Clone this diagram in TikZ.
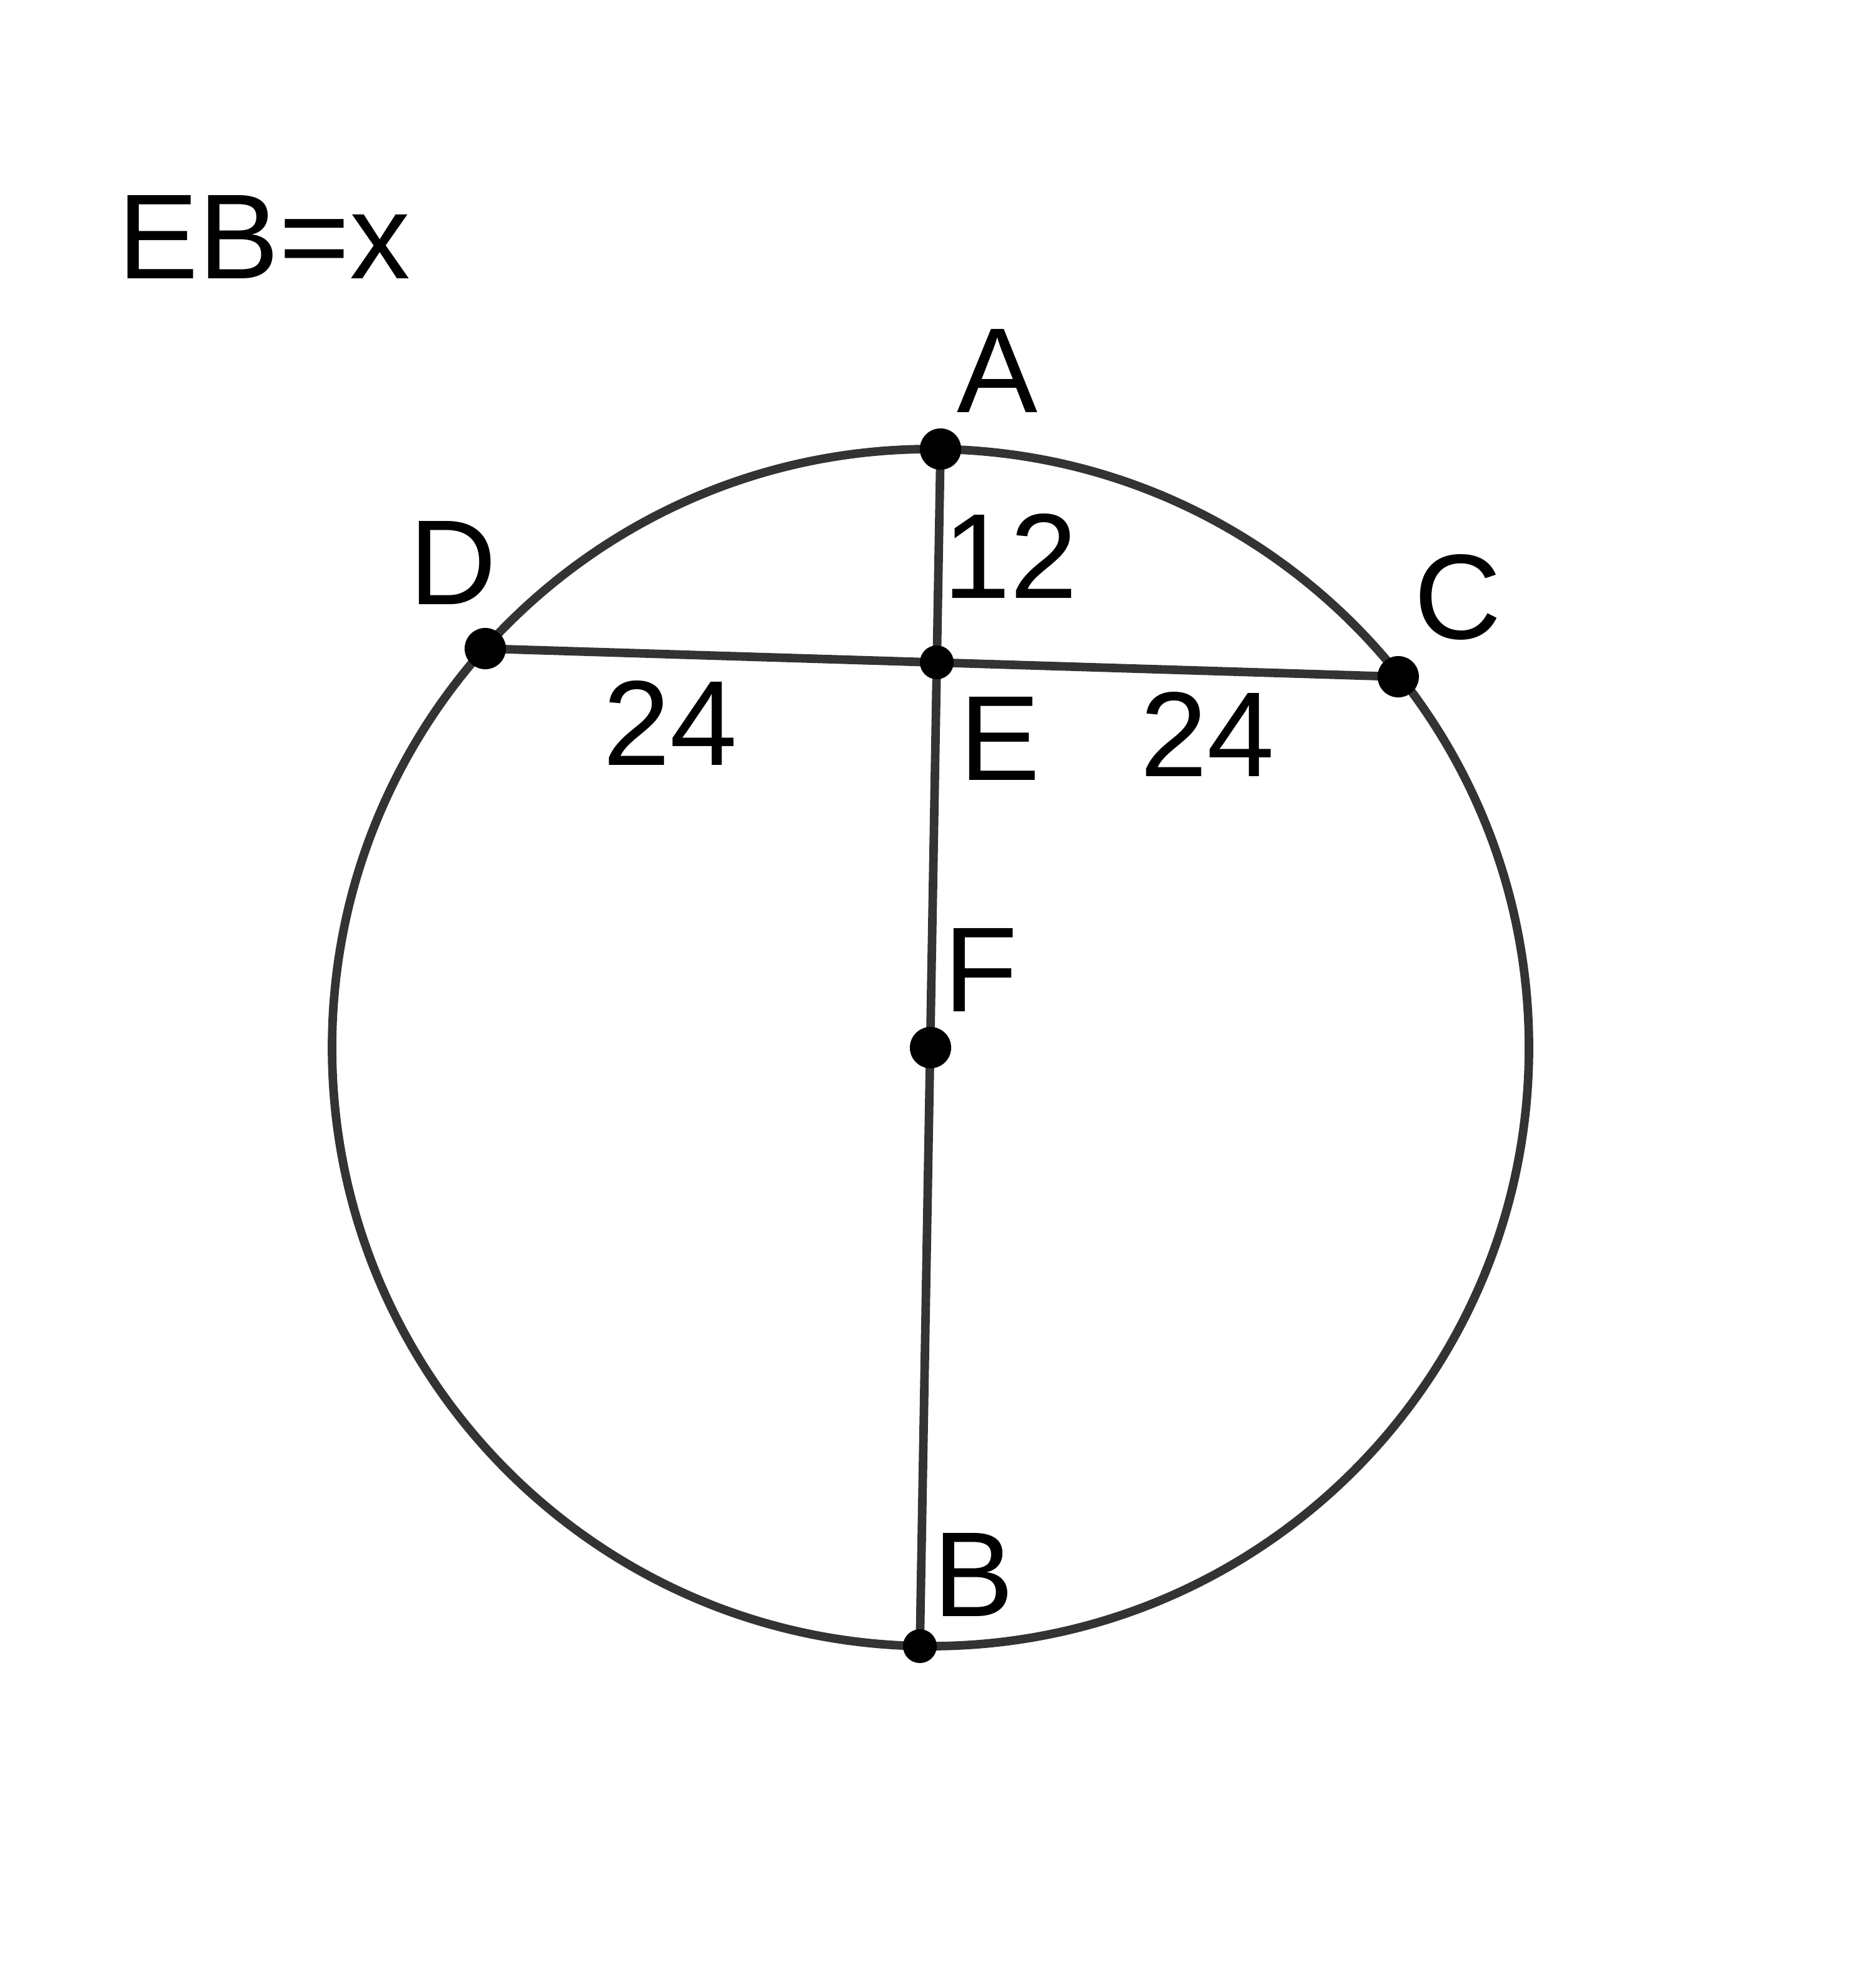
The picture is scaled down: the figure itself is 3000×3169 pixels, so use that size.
\documentclass[tikz,border=0pt]{standalone}
\usepackage{fontspec}
\setmainfont{Liberation Sans}
\definecolor{linegray}{HTML}{333333}
\begin{document}
\begin{tikzpicture}[x=0.01cm,y=-0.01cm,
  geo/.style={draw=linegray,line width=3.9pt},
  bigdot/.style={circle,fill=black,inner sep=0pt,minimum size=0.66cm},
  smalldot/.style={circle,fill=black,inner sep=0pt,minimum size=0.54cm},
  lbl/.style={anchor=base,inner sep=0pt,font=\fontsize{55}{60}\selectfont}]
\useasboundingbox (0,0) rectangle (3000,3169);
\coordinate (Fc) at (1488,1675);
\coordinate (Ac) at (1504,718);
\coordinate (Bc) at (1471,2632);
\coordinate (Dc) at (776,1037);
\coordinate (Cc) at (2236,1082);
\coordinate (Ec) at (1498,1059);
\draw[geo] (Fc) circle (957);
\draw[geo] (Ac) -- (Bc);
\draw[geo] (Dc) -- (Cc);
\node[bigdot] (A) at (Ac) {};
\node[smalldot] (B) at (Bc) {};
\node[bigdot] (D) at (Dc) {};
\node[bigdot] (C) at (Cc) {};
\node[smalldot] (E) at (Ec) {};
\node[bigdot] (F) at (Fc) {};
\node[lbl] (title) at (422,445) {EB=x};
\node[lbl] (lA) at (1595,659) {A};
\node[lbl] (lD) at (724,966) {D};
\node[lbl] (lC) at (2331,1021) {C};
\node[lbl] (lE) at (1599,1247) {E};
\node[lbl] (lF) at (1569,1617) {F};
\node[lbl] (lB) at (1557,2584) {B};
\node[lbl] (l12) at (1616,956) {12};
\node[lbl] (l24a) at (1072,1223) {24};
\node[lbl] (l24b) at (1931,1241) {24};
\end{tikzpicture}
\end{document}
